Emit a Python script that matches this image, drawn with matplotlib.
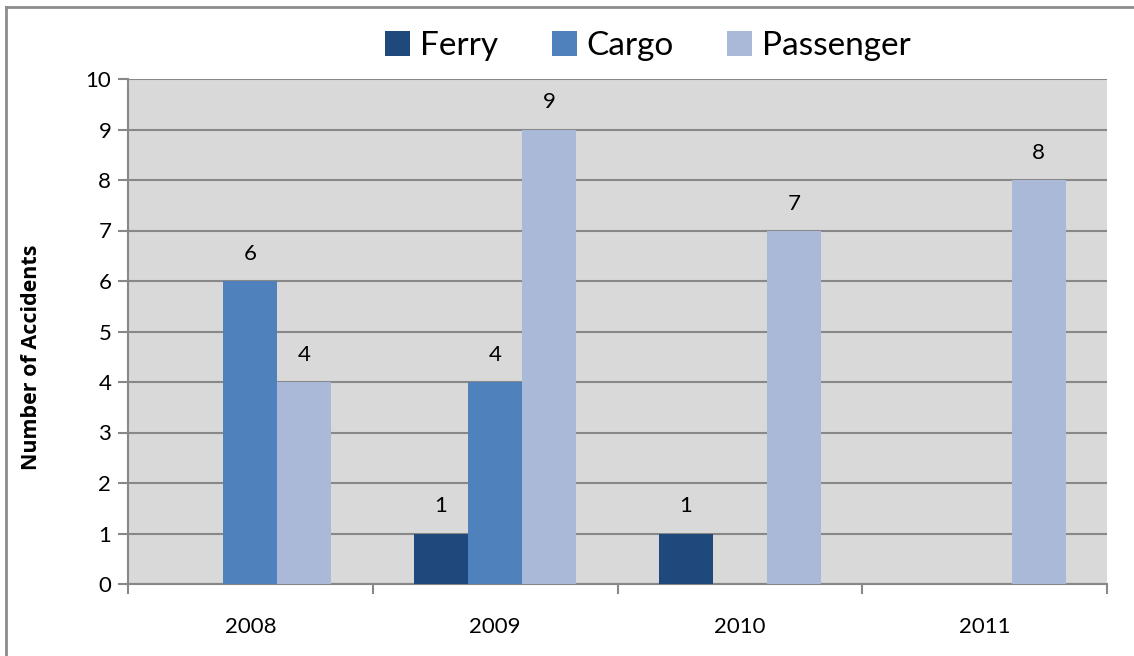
import matplotlib
matplotlib.use("Agg")
import matplotlib.pyplot as plt
from matplotlib.lines import Line2D
import numpy as np

plt.rcParams['font.family'] = ['Lato', 'DejaVu Sans']

years = ["2008", "2009", "2010", "2011"]
series_names = ["Ferry", "Cargo", "Passenger"]
ferry = [0, 1, 1, 0]
cargo = [6, 4, 0, 0]
passenger = [4, 9, 7, 8]
colors = ["#1F497D", "#4F81BD", "#AAB9D7"]
y_ticks = list(range(0, 11))

fig = plt.figure(figsize=(11.34, 6.56), dpi=100)
ax = fig.add_axes([128/1134, 1 - 584/656, (1107-128)/1134, (584-79)/656])
ax.set_facecolor("#D9D9D9")

x = np.arange(len(years))
bw = 0.2207
for i, (name, vals, col) in enumerate(zip(series_names, [ferry, cargo, passenger], colors)):
    pos = x + (i - 1) * bw
    ax.bar(pos, vals, width=bw, color=col, label=name, zorder=3, linewidth=0)
    for p, v in zip(pos, vals):
        if v:
            ax.annotate(str(v), (p, v), xytext=(0, 27), textcoords="offset pixels",
                        ha="center", va="center", fontsize=16, color="#000000")

ax.set_xlim(-0.5, len(years) - 0.5)
ax.set_ylim(0, 10)
ax.set_yticks(y_ticks)
ax.set_yticklabels([str(t) for t in y_ticks], fontsize=16)
ax.yaxis.grid(True, color="#888888", linewidth=1.5, zorder=1)
ax.set_axisbelow(True)

ax.set_xticks(x)
ax.set_xticklabels(years, fontsize=16)
ax.set_xticks(np.arange(-0.5, len(years)), minor=True)
ax.tick_params(axis="x", which="major", length=0, pad=24)
ax.tick_params(axis="x", which="minor", length=7, width=1.5, color="#888888")
ax.tick_params(axis="y", length=7, width=1.5, color="#888888", pad=5)

for s in ["top", "right"]:
    ax.spines[s].set_visible(False)
for s in ["left", "bottom"]:
    ax.spines[s].set_color("#888888")
    ax.spines[s].set_linewidth(1.5)

ax.set_ylabel("Number of Accidents", fontsize=15.5, fontweight="bold", labelpad=0,
              family=["Open Sans", "DejaVu Sans"])
ax.yaxis.set_label_coords(-86/979, (584 - 357) / 505)

fig.legend(loc="center", bbox_to_anchor=(648/1134, 1 - 46/656), ncol=3, frameon=False,
           fontsize=24, handlelength=0.75, handleheight=0.75, handletextpad=0.3,
           columnspacing=1.6)

fig.add_artist(Line2D([5.5/1134, 5.5/1134], [0, 1 - 6.5/656], color="#8C8C8C", linewidth=2))
fig.add_artist(Line2D([5.5/1134, 1], [1 - 6.5/656, 1 - 6.5/656], color="#8C8C8C", linewidth=2))

fig.savefig("out.png", dpi=100)
